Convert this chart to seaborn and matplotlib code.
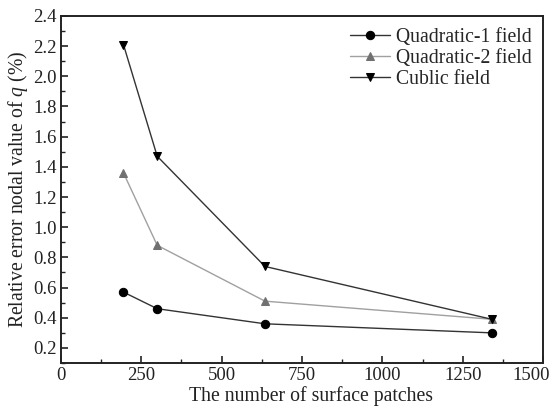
import pandas as pd
import matplotlib.pyplot as plt
import matplotlib.transforms as mtransforms
import seaborn as sns

patches = [195, 300, 635, 1340]
quad1 = [0.57, 0.46, 0.36, 0.30]
quad2 = [1.36, 0.88, 0.51, 0.39]
cubic = [2.21, 1.47, 0.74, 0.39]
names = ["Quadratic-1 field", "Quadratic-2 field", "Cublic field"]

df = pd.DataFrame({
    "patches": patches * 3,
    "error": quad1 + quad2 + cubic,
    "series": [n for n in names for _ in patches],
})

sns.set_style("ticks")
plt.rcParams['font.family'] = ['Liberation Serif', 'DejaVu Serif']
plt.rcParams['mathtext.fontset'] = 'custom'
plt.rcParams['mathtext.it'] = 'Liberation Serif:italic'

fig = plt.figure(figsize=(5.52, 4.07), dpi=100)
ax = fig.add_axes([0.110, 0.108, 0.874, 0.853])

line_colors = {names[0]: "#333333", names[1]: "#a0a0a0", names[2]: "#333333"}
marker_colors = {names[0]: "black", names[1]: "#707070", names[2]: "black"}
markers = {names[0]: "o", names[1]: "^", names[2]: "v"}

for n in names:
    sns.lineplot(data=df[df["series"] == n], x="patches", y="error", ax=ax,
                 color=line_colors[n], marker=markers[n], markersize=6,
                 markerfacecolor=marker_colors[n], markeredgecolor=marker_colors[n],
                 linewidth=1.0, label=n)

ax.set_xlim(0, 1500)
ax.set_ylim(0.1, 2.4)
ax.set_xticks([0, 250, 500, 750, 1000, 1250, 1500])
ax.set_xticks(range(125, 1500, 250), minor=True)
ax.set_yticks([0.2 * i for i in range(1, 13)])
ax.set_yticks([0.1 + 0.2 * i for i in range(12)], minor=True)
ax.set_yticklabels([f"{0.2 * i:.1f}" for i in range(1, 13)])
ax.tick_params(which="both", direction="in", top=False, right=False, labelsize=13.5, colors="#222222")
ax.tick_params(which="major", length=5, width=1.2, pad=3)
ax.tick_params(which="minor", length=3, width=1.0)
for s in ax.spines.values():
    s.set_linewidth(1.4)
    s.set_color("#222222")
ax.set_xlabel("The number of surface patches", fontsize=14.2, labelpad=0, color="#222222")
ax.set_ylabel(r"Relative error nodal value of $q$ (%)", fontsize=14.2, labelpad=2, color="#222222")
ax.xaxis.set_label_coords(0.519, -0.065)

# last x tick label sits against the figure edge, nudge it inward
last = ax.get_xticklabels()[-1]
last.set_transform(last.get_transform() + mtransforms.ScaledTranslation(-12 / 100, 0, fig.dpi_scale_trans))

leg = ax.legend(loc="upper right", frameon=False, fontsize=14.2, handlelength=2.0,
                handletextpad=0.3, labelspacing=0.1, borderaxespad=0.2)

fig.savefig("out.png", dpi=100)
